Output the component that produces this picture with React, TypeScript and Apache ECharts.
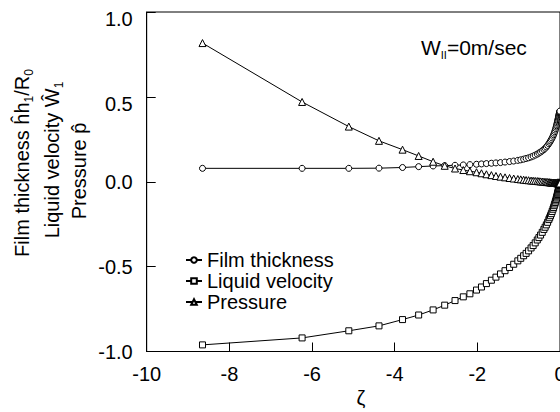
import React, { useEffect, useRef } from "react";
import * as echarts from "echarts";

const FONT = "'Liberation Sans', Arial, Helvetica, sans-serif";

// Non-uniform ζ grid (clusters near 0)
const zeta = [
  -8.65, -6.24, -5.11, -4.38, -3.81, -3.42, -3.07, -2.79, -2.54, -2.34,
  -2.18, -2.02, -1.9, -1.78, -1.66, -1.55, -1.44, -1.33, -1.22, -1.12,
  -1.02, -0.95, -0.88, -0.82, -0.76, -0.7, -0.65, -0.6, -0.55, -0.51,
  -0.47, -0.43, -0.39, -0.36, -0.33, -0.3, -0.27, -0.25, -0.23, -0.21,
  -0.19, -0.17, -0.155, -0.14, -0.127, -0.115, -0.104, -0.094, -0.085, -0.077,
  -0.069, -0.062, -0.055, -0.049, -0.043, -0.038, -0.033, -0.029, -0.025, -0.021,
  -0.018, -0.015, -0.012, -0.01, -0.008, -0.006, -0.004, -0.002,
];

const filmThickness = [
  0.079, 0.079, 0.079, 0.08, 0.084, 0.089, 0.093, 0.095, 0.097, 0.099,
  0.101, 0.103, 0.105, 0.107, 0.109, 0.111, 0.113, 0.116, 0.119, 0.122,
  0.126, 0.129, 0.133, 0.137, 0.141, 0.146, 0.151, 0.157, 0.163, 0.169,
  0.175, 0.182, 0.19, 0.197, 0.205, 0.214, 0.224, 0.232, 0.24, 0.249,
  0.258, 0.268, 0.277, 0.286, 0.295, 0.304, 0.313, 0.322, 0.33, 0.338,
  0.346, 0.353, 0.36, 0.366, 0.372, 0.378, 0.383, 0.388, 0.392, 0.396,
  0.4, 0.403, 0.406, 0.408, 0.41, 0.412, 0.414, 0.416,
];

const liquidVelocity = [
  -0.961, -0.92, -0.878, -0.849, -0.812, -0.785, -0.755, -0.727, -0.7, -0.678,
  -0.66, -0.638, -0.62, -0.6, -0.58, -0.562, -0.543, -0.524, -0.505, -0.486,
  -0.466, -0.451, -0.436, -0.422, -0.407, -0.39, -0.376, -0.36, -0.343, -0.329,
  -0.314, -0.298, -0.281, -0.268, -0.254, -0.239, -0.223, -0.212, -0.2, -0.188,
  -0.175, -0.162, -0.152, -0.141, -0.131, -0.122, -0.113, -0.104, -0.096, -0.089,
  -0.082, -0.075, -0.068, -0.062, -0.056, -0.05, -0.045, -0.04, -0.035, -0.03,
  -0.026, -0.022, -0.018, -0.015, -0.012, -0.009, -0.006, -0.003,
];

const pressure = [
  0.817, 0.47, 0.325, 0.241, 0.189, 0.152, 0.118, 0.094, 0.078, 0.069,
  0.062, 0.056, 0.05, 0.044, 0.039, 0.034, 0.03, 0.026, 0.022, 0.019,
  0.016, 0.014, 0.012, 0.01, 0.009, 0.007, 0.006, 0.005, 0.004, 0.003,
  0.002, 0.001, 0.0, -0.001, -0.002, -0.002, -0.003, -0.003, -0.004, -0.004,
  -0.005, -0.005, -0.006, -0.006, -0.006, -0.007, -0.007, -0.007, -0.008, -0.008,
  -0.008, -0.008, -0.009, -0.009, -0.009, -0.009, -0.009, -0.01, -0.01, -0.01,
  -0.01, -0.01, -0.01, -0.01, -0.01, -0.01, -0.01, -0.01,
];

const seriesNames = ["Film thickness", "Liquid velocity", "Pressure"];
const seriesSymbols = ["circle", "rect", "triangle"];
const seriesSizes = [6, 6, 7];
const seriesValues = [filmThickness, liquidVelocity, pressure];

const shiftedYLabels = [1.0, 0.5];

const richSub = {
  t: { fontSize: 20, fontFamily: FONT, color: "#000", lineHeight: 26 },
  s: { fontSize: 12, fontFamily: FONT, color: "#000", lineHeight: 14, verticalAlign: "bottom" },
};

export default function App() {
  const ref = useRef<HTMLDivElement>(null);

  useEffect(() => {
    if (!ref.current) return;
    const chart = echarts.init(ref.current, undefined, { renderer: "svg" });

    const series = seriesNames.map((name, k) => ({
      type: "line",
      name,
      data: zeta.map((z, i) => [z, seriesValues[k][i]]),
      symbol: seriesSymbols[k],
      symbolSize: seriesSizes[k],
      showSymbol: true,
      lineStyle: { color: "#000", width: 1 },
      itemStyle: { color: "#fff", borderColor: "#000", borderWidth: 1 },
      emphasis: { disabled: true },
      silent: true,
    }));

    chart.setOption({
      animation: false,
      backgroundColor: "#fff",
      textStyle: { fontFamily: FONT },
      grid: {
        left: 146.7,
        right: 0,
        top: 12,
        bottom: 60.5,
        show: true,
        borderColor: "#000",
        borderWidth: 1,
        containLabel: false,
        outerBoundsMode: "none",
      },
      legend: {
        orient: "vertical",
        left: 180,
        top: 245,
        itemWidth: 16,
        itemHeight: 7,
        itemGap: 1,
        data: seriesNames,
        textStyle: { fontSize: 20, fontFamily: FONT, color: "#000", lineHeight: 20 },
      },
      xAxis: {
        type: "value",
        min: -10,
        max: 0,
        interval: 2,
        name: "ζ",
        nameLocation: "middle",
        nameGap: 33,
        nameTextStyle: { fontSize: 20, fontFamily: FONT, color: "#000", padding: [0, 0, 0, 15] },
        axisLine: { onZero: false, lineStyle: { color: "#000", width: 1 } },
        axisTick: { inside: true, length: 9, lineStyle: { color: "#000" } },
        axisLabel: { fontSize: 20, fontFamily: FONT, color: "#000", margin: 12 },
        splitLine: { show: false },
      },
      yAxis: {
        type: "value",
        min: -1,
        max: 1,
        interval: 0.5,
        axisLine: { onZero: false, lineStyle: { color: "#000", width: 1 } },
        axisTick: { inside: true, length: 9, lineStyle: { color: "#000" } },
        axisLabel: {
          fontSize: 20,
          fontFamily: FONT,
          color: "#000",
          margin: 14,
          formatter: (v: number) => {
            const s = v.toFixed(1);
            return shiftedYLabels.includes(v) ? `{dn|${s}}` : s;
          },
          rich: {
            dn: { fontSize: 20, fontFamily: FONT, color: "#000", padding: [14, 0, 0, 0] },
          },
        },
        splitLine: { show: false },
      },
      graphic: [
        {
          type: "text",
          x: 22,
          y: 163,
          rotation: Math.PI / 2,
          silent: true,
          style: {
            text: "{t|Film thickness \u0125h}{s|1}{t|/R}{s|0}",
            rich: richSub,
            align: "center",
            verticalAlign: "middle",
          },
        },
        {
          type: "text",
          x: 52,
          y: 160,
          rotation: Math.PI / 2,
          silent: true,
          style: {
            text: "{t|Liquid velocity \u0174}{s|1}",
            rich: richSub,
            align: "center",
            verticalAlign: "middle",
          },
        },
        {
          type: "text",
          x: 79,
          y: 171,
          rotation: Math.PI / 2,
          silent: true,
          style: {
            text: "{t|Pressure p\u0302}",
            rich: richSub,
            align: "center",
            verticalAlign: "middle",
          },
        },
        {
          type: "text",
          x: 421,
          y: 47,
          silent: true,
          style: {
            text: "{t|W}{s|II}{t|=0m/sec}",
            rich: {
              t: { fontSize: 21, fontFamily: FONT, color: "#000", lineHeight: 26 },
              s: { fontSize: 11, fontFamily: FONT, color: "#000", lineHeight: 13, verticalAlign: "bottom" },
            },
            align: "left",
            verticalAlign: "middle",
          },
        },
      ],
      series,
    });

    return () => chart.dispose();
  }, []);

  return (
    <div
      ref={ref}
      style={{ position: "fixed", left: 0, top: 0, width: 560, height: 412, background: "#fff" }}
    />
  );
}
